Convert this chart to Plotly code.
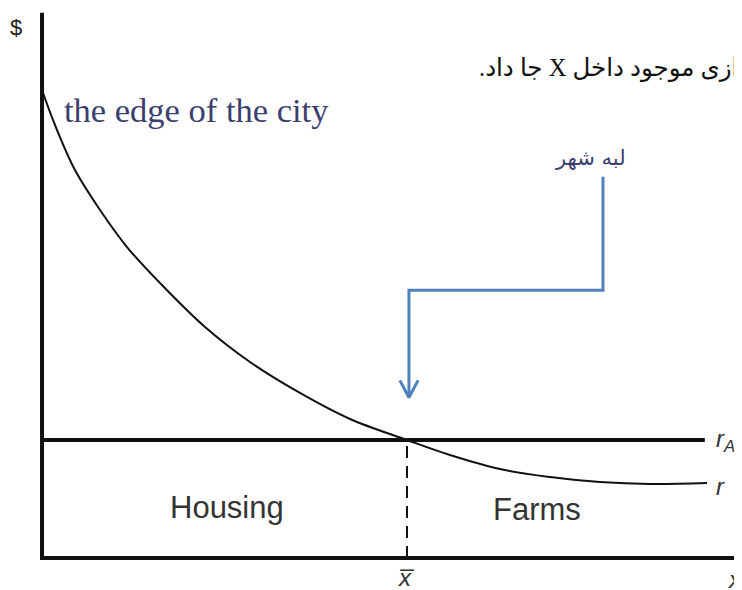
import plotly.graph_objects as go

# ---- data (arbitrary economic units) ----
curve_x = [0, 0.178, 0.452, 0.795, 1.164, 1.616, 2.233, 2.849, 3.534, 4.219,
           5.0, 5.589, 6.274, 6.959, 7.644, 8.329, 9.11]
curve_r = [7.932, 7.339, 6.576, 5.898, 5.271, 4.661, 3.915, 3.322, 2.797, 2.356,
           2.0, 1.746, 1.508, 1.373, 1.288, 1.254, 1.271]
r_A = 2.0
x_bar = 5.0
x_end = 9.08
y_top = 9.24

# axis ranges (page body adds an 8px offset)
X_RANGE = [-0.466, 9.699]
Y_RANGE = [-0.678, 9.322]

# arrow path (annotation pointing at the city edge)
arrow_x = [7.685, 7.685, 5.027, 5.027]
arrow_y = [6.46, 4.54, 4.54, 2.72]
head_dx = 0.125
head_dy = 0.29

BLACK = "#111111"
BLUE = "#4F81BD"
NAVY = "#3B3E6E"
SANS = "Liberation Sans, Arial, sans-serif"
SERIF = "Liberation Serif, Times New Roman, DejaVu Sans, serif"

fig = go.Figure()

fig.add_trace(go.Scatter(x=curve_x, y=curve_r, mode="lines",
                         line=dict(color=BLACK, width=2, shape="spline", smoothing=1.0),
                         hoverinfo="skip", showlegend=False))
fig.add_trace(go.Scatter(x=[0, x_end], y=[r_A, r_A], mode="lines",
                         line=dict(color=BLACK, width=4), hoverinfo="skip", showlegend=False))
fig.add_trace(go.Scatter(x=[x_bar, x_bar], y=[0, r_A], mode="lines",
                         line=dict(color=BLACK, width=2, dash="12px,8px"),
                         hoverinfo="skip", showlegend=False))
fig.add_trace(go.Scatter(x=[0, 0, X_RANGE[1] + 1], y=[y_top, 0, 0], mode="lines",
                         line=dict(color=BLACK, width=4), hoverinfo="skip", showlegend=False))
fig.add_trace(go.Scatter(x=arrow_x, y=arrow_y, mode="lines",
                         line=dict(color=BLUE, width=3), hoverinfo="skip", showlegend=False))
tip_x, tip_y = arrow_x[-1], arrow_y[-1]
fig.add_trace(go.Scatter(x=[tip_x - head_dx, tip_x, tip_x + head_dx],
                         y=[tip_y + head_dy, tip_y, tip_y + head_dy], mode="lines",
                         line=dict(color=BLUE, width=3), hoverinfo="skip", showlegend=False))

ann = []
def add(text, x, y, size, color=BLACK, family=SANS, xanchor="center", yanchor="middle", xref="x"):
    ann.append(dict(text=text, x=x, y=y, xref=xref, yref="y", showarrow=False,
                    font=dict(size=size, color=color, family=family),
                    xanchor=xanchor, yanchor=yanchor))

add("$", -0.356, 9.0, 22, color="#222222")
add("the edge of the city", 0.28, 7.59, 34.5, color=NAVY, family=SERIF, xanchor="left")
add("\u202Bازی موجود داخل X جا داد.\u202C", 0.9865, 8.3, 24.5, color="#111111", family=SERIF,
    xanchor="right", xref="paper")
add("لبه شهر", 7.51, 6.78, 21, color=NAVY, family="DejaVu Sans, sans-serif")
add("Housing", 2.534, 0.85, 31, color="#333333")
add("Farms", 6.781, 0.82, 31, color="#333333")
add("<i>r<sub>A</sub></i>", 9.21, 2.0, 24, color="#333333", xanchor="left")
add("<i>r</i>", 9.2, 1.22, 24, color="#333333", xanchor="left")
add("<i>x\u0305</i>", x_bar, -0.33, 24, color="#333333")
add("<i>x</i>", 9.5, -0.36, 24, color="#333333")

fig.update_layout(
    width=742, height=590,
    margin=dict(l=0, r=0, t=0, b=0),
    paper_bgcolor="white", plot_bgcolor="white",
    xaxis=dict(range=X_RANGE, visible=False, fixedrange=True),
    yaxis=dict(range=Y_RANGE, visible=False, fixedrange=True),
    annotations=ann,
    showlegend=False,
)

fig.write_html("out.html")
